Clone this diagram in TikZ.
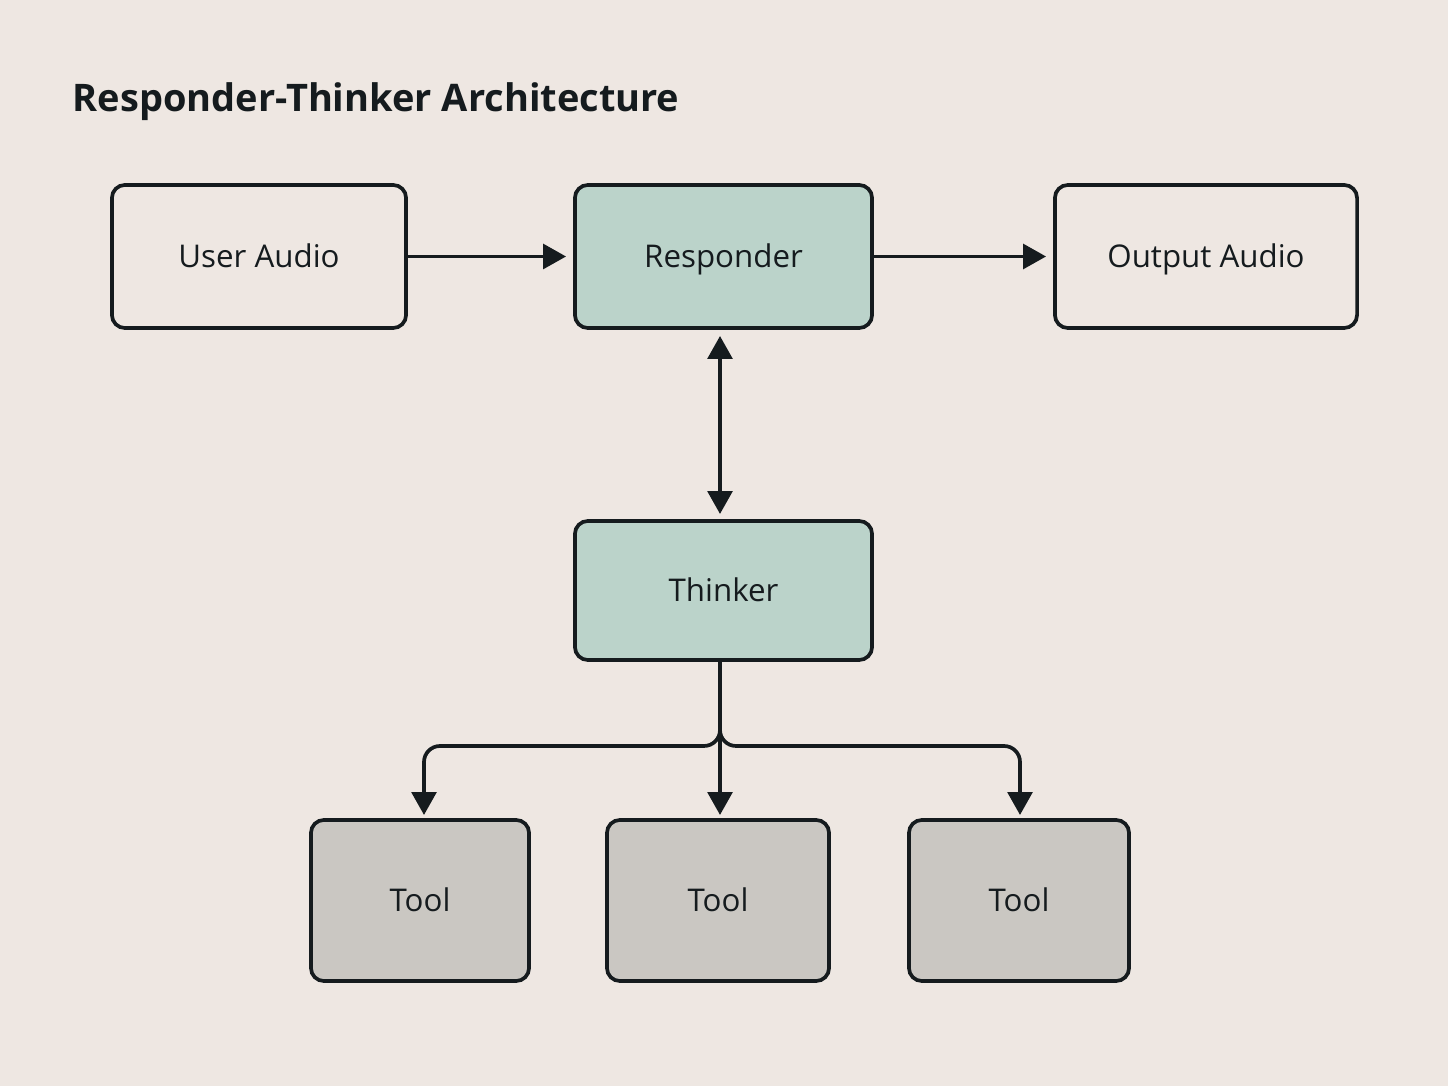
\documentclass[tikz,border=0pt]{standalone}
\usepackage{fontspec}
\setmainfont{Open Sans}
\usetikzlibrary{arrows.meta}
\definecolor{bgc}{HTML}{EEE7E2}
\definecolor{greenc}{HTML}{BBD3CA}
\definecolor{greyc}{HTML}{CAC7C2}
\definecolor{inkc}{HTML}{151B1E}
\tikzset{
  box/.style={draw=inkc, line width=1.05pt, rounded corners=0.13cm, inner sep=0pt,
    font=\fontsize{8.9}{10}\selectfont, text=inkc, text height=1.5ex, text depth=0.3ex},
  conn/.style={draw=inkc, line width=1.05pt, -{Triangle[length=6.5pt,width=7pt]}},
}
\begin{document}
\begin{tikzpicture}[x=0.01cm,y=-0.01cm]
\fill[bgc] (0,0) rectangle (1448,1086);
\useasboundingbox (0,0) rectangle (1448,1086);
\node[anchor=west, inner sep=0pt, font=\bfseries\fontsize{10.8}{12}\selectfont, text=inkc] (title) at (72,102) {Responder-Thinker Architecture};
\node[box, fill=bgc, minimum width=2.94cm, minimum height=1.43cm] (ua) at (259,256.5) {User Audio};
\node[box, fill=greenc, minimum width=2.97cm, minimum height=1.43cm] (resp) at (723.5,256.5) {Responder};
\node[box, fill=bgc, minimum width=3.02cm, minimum height=1.43cm] (oa) at (1206,256.5) {Output Audio};
\node[box, fill=greenc, minimum width=2.97cm, minimum height=1.39cm] (think) at (723.5,590.5) {Thinker};
\node[box, fill=greyc, minimum width=2.18cm, minimum height=1.61cm] (t1) at (420,900.5) {Tool};
\node[box, fill=greyc, minimum width=2.22cm, minimum height=1.61cm] (t2) at (718,900.5) {Tool};
\node[box, fill=greyc, minimum width=2.20cm, minimum height=1.61cm] (t3) at (1019,900.5) {Tool};
\draw[conn] (ua.east) -- ([xshift=-0.07cm]resp.west);
\draw[conn] (resp.east) -- ([xshift=-0.07cm]oa.west);
\draw[conn, {Triangle[length=6.5pt,width=7pt]}-{Triangle[length=6.5pt,width=7pt]}] (720,336) -- (720,514);
\coordinate (j) at (720,746);
\draw[conn] (think.south -| j) -- (720,815);
\draw[conn, rounded corners=0.16cm] (720,715) -- (j) -- (424,746) -- (424,815);
\draw[conn, rounded corners=0.16cm] (720,715) -- (j) -- (1020,746) -- (1020,815);
\end{tikzpicture}
\end{document}
